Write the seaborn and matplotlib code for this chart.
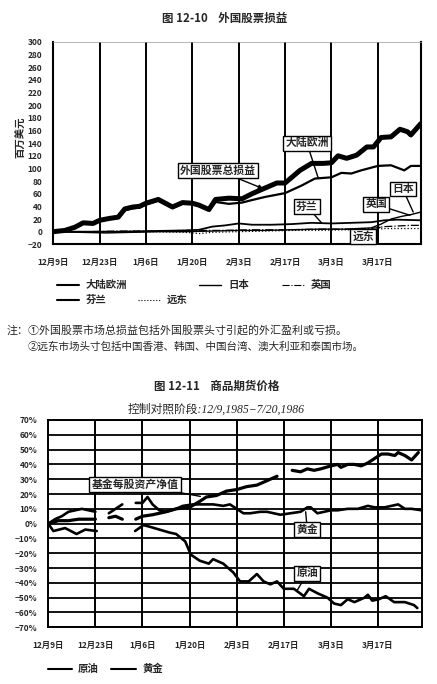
import numpy as np
import pandas as pd
import matplotlib
matplotlib.use("Agg")
import matplotlib.pyplot as plt
from matplotlib.lines import Line2D
import seaborn as sns

# x axis: days counted from 12/9/1985
tick_days = [0, 14, 28, 42, 56, 70, 84, 98]
tick_labels = ["12月9日", "12月23日", "1月6日", "1月20日", "2月3日", "2月17日", "3月3日", "3月17日"]

# fig 12-10, million USD
total_days = [0, 3.5, 6.5, 9, 12, 14, 17, 19.6, 21.6, 24, 26, 28, 31.7, 36, 39, 42, 44, 47, 49, 53,
              57, 60, 63.5, 67.5, 70, 74.5, 78, 81.6, 84, 86, 88.6, 91.6, 94.7, 96.7, 99, 102, 104.7,
              107, 108, 111]
total_vals = [0, 2, 7, 14, 13, 18, 21, 23, 36, 39, 40, 45, 51, 39, 46, 45, 42, 35, 51, 53,
              52, 60, 68, 77, 77, 97, 108, 108, 109, 120, 116, 121, 134, 134, 149, 150, 162,
              158, 153, 171]

europe_days = [0, 3.5, 6.5, 9, 12, 14, 17, 19.6, 21.6, 24, 26, 28, 31.7, 36, 39, 42, 44, 47, 49, 53,
               57, 60, 64, 70, 75, 79, 84, 87, 90, 93, 98, 102, 106, 108, 111]
europe_vals = [0, 2, 6, 13, 12, 17, 20, 22, 34, 37, 38, 43, 49, 38, 44, 44, 41, 34, 47, 44,
               46, 50, 55, 61, 73, 84, 86, 93, 92, 97, 104, 105, 97, 104, 104]

finland_days = [0, 10, 20, 30, 40, 44, 48, 52, 56, 60, 66, 72, 78, 84, 90, 96, 100, 104, 111]
finland_vals = [0, 0, 0, 1, 2, 3, 8, 10, 13, 11, 11, 12, 14, 13, 14, 15, 18, 19, 18]

japan_days = [0, 8, 16, 24, 32, 40, 48, 56, 64, 72, 80, 88, 96, 99, 102, 105, 108, 111]
japan_vals = [0, -1, -2, -1, 0, 0, 1, 2, 2, 3, 4, 4, 6, 12, 20, 24, 27, 31]

uk_days = [0, 10, 20, 30, 40, 50, 60, 70, 80, 90, 96, 100, 104, 108, 111]
uk_vals = [0, 0, 1, 1, 2, 2, 3, 3, 4, 4, 5, 8, 9, 10, 10]

fareast_days = [0, 10, 20, 30, 40, 44, 48, 56, 64, 72, 80, 88, 96, 100, 104, 111]
fareast_vals = [0, -1, -1, 0, -1, -3, -1, 0, 1, 2, 2, 3, 3, 5, 5, 5]

# fig 12-11, percent change (nan = break in the printed line)
oil_days = [0, 1.5, 5, 8.4, 11, 14.4, 20, 25.8, 28.3, 30, 33, 36, 38, 40.7, 42.4, 45, 47.7, 49, 52,
            55, 57, 59.6, 62, 64, 66, 68, 70, 73, 76, 77.5, 80, 83, 85, 87, 89, 91, 94, 95, 96.3,
            98.3, 100.3, 102.8, 106, 108.7, 109.7]
oil_vals = [0, -5, -3, -7, -4, -5, np.nan, -5, -1, -2, -4, -6, -7, -12, -21, -25, -27, -24, -27,
            -33, -39, -39, -34, -39, -41, -39, -44, -44, -49, -44, -47, -50, -54, -55, -51, -53,
            -50, -48, -52, -51, -49, -53, -53, -55, -57]

gold_days = [0, 2, 4, 6, 8, 10, 12, 14, 16, 18, 20, 22, 24, 26, 28, 29.5, 31, 33, 35, 38, 40, 43,
             46, 49, 52, 54, 56, 58, 60, 63, 65, 67, 69, 72, 75, 77, 78, 80, 82, 84, 86, 89, 92,
             95, 97, 100, 102, 104, 106, 108, 111]
gold_vals = [0, 3, 5, 8, 9, 10, 9, 8, np.nan, 7, 10, 13, np.nan, 14, 14, 18, 13, 9, 8, 10, 12, 13,
             13, 13, 12, 13, 10, 7, 7, 8, 8, 7, 6, 7, 8, 11, 11, 7, 8, 9, 9, 10, 10,
             12, 11, 11, 12, 13, 10, 10, 9]

nav_days = [0, 3, 6, 9, 12, 14, 16, 18, 20, 22, 24, 26, 28, 31, 35, 38, 42, 45, 47, 50, 53, 56,
            59, 62, 64, 66, 68, 70, 72.5, 75, 77, 79, 81, 84, 86, 87, 89, 91, 93, 95, 97, 99, 101,
            103, 104, 106, 108, 110]
nav_vals = [0, 2, 2, 3, 3, 3, np.nan, 4, 5, 3, np.nan, 3, 5, 6, 8, 10, 11, 15, 18, 19, 22, 23,
            25, 26, 28, 30, 32, np.nan, 36, 35, 37, 36, 37, 39, 40, 38, 40, 40, 39, 41, 44, 47, 47,
            46, 48, 46, 43, 48]


def to_frame(days, vals):
    df = pd.DataFrame({"day": days, "value": vals})
    df["seg"] = df["value"].isna().cumsum()
    return df.dropna()


def draw(ax, days, vals, **kw):
    sns.lineplot(data=to_frame(days, vals), x="day", y="value", units="seg",
                 estimator=None, ax=ax, color="black", **kw)


def style_xaxis(ax):
    ax.set_xlim(0, 111)
    ax.set_xticks(tick_days)
    ax.set_xticklabels(tick_labels, fontsize=6, fontweight="bold")
    ax.set_xticks([d for d in range(0, 112) if d % 7 < 5], minor=True)
    ax.tick_params(axis="x", which="both", direction="out", length=5, width=1, pad=5)
    ax.xaxis.grid(True, which="major", color="black", lw=1.4)
    ax.set_xlabel("")
    ax.set_ylabel("")


def box(ax, text, xy, xytext, head=False):
    ax.annotate(text, xy=xy, xytext=xytext, ha="center", va="center", fontsize=7.8,
                fontweight="bold",
                bbox=dict(boxstyle="square,pad=0.2", fc="white", ec="black", lw=1),
                arrowprops=dict(arrowstyle="-|>" if head else "-", color="black", lw=1,
                                mutation_scale=6, shrinkA=0, shrinkB=0))


sns.set_style("white")
plt.rcParams["font.family"] = ["Noto Sans CJK SC", "DejaVu Sans"]

fig = plt.figure(figsize=(4.37, 6.84), dpi=100)

# ---------------- fig 12-10
ax1 = fig.add_axes([0.122, 0.6428, 0.841, 0.2958])
draw(ax1, fareast_days, fareast_vals, lw=0.9, linestyle=":")
draw(ax1, uk_days, uk_vals, lw=0.9, linestyle="-.")
draw(ax1, japan_days, japan_vals, lw=1.0)
draw(ax1, finland_days, finland_vals, lw=1.3)
draw(ax1, europe_days, europe_vals, lw=1.6)
draw(ax1, total_days, total_vals, lw=3.6)

ax1.set_ylim(-20, 300)
ax1.set_yticks(range(-20, 301, 20))
ax1.set_yticklabels([str(v).replace("-", "−") for v in range(-20, 301, 20)],
                    fontsize=6, fontweight="bold")
ax1.tick_params(axis="y", direction="out", length=6, width=1.2, pad=2)
style_xaxis(ax1)
for side in ["left", "right", "bottom"]:
    ax1.spines[side].set_linewidth(1.5)
    ax1.spines[side].set_color("black")
ax1.spines["top"].set_linewidth(0.5)
ax1.spines["top"].set_color("0.6")

box(ax1, "外国股票总损益", (63.4, 68), (49.7, 97), head=True)
box(ax1, "大陆欧洲", (80, 85), (76.6, 140))
box(ax1, "芬兰", (81, 14), (76.6, 40))
box(ax1, "英国", (107.7, 26), (97.5, 43))
box(ax1, "日本", (108.7, 31), (105.6, 67))
box(ax1, "远东", (98.7, 7), (93.6, -8))

fig.text(0.515, 0.9737, "图 12-10    外国股票损益", ha="center", va="center",
         fontsize=8.3, fontweight="bold")
fig.text(0.046, 0.80, "百万美元", rotation=90, ha="center", va="center",
         fontsize=7.5, fontweight="bold")


def legend_item(x0, y, label, **kw):
    yy = 1 - y / 684
    fig.add_artist(Line2D([x0 / 437, (x0 + 22) / 437], [yy, yy], color="black", **kw))
    fig.text((x0 + 29) / 437, yy, label, ha="left", va="center", fontsize=7.5,
             fontweight="bold")


legend_item(57, 285, "大陆欧洲", lw=1.5)
legend_item(199, 285, "日本", lw=1.0)
legend_item(282, 285, "英国", lw=0.8, linestyle="-.")
legend_item(57, 300, "芬兰", lw=1.5)
legend_item(138, 300, "远东", lw=0.8, linestyle=":")

fig.text(7 / 437, 1 - 330 / 684, "注：①外国股票市场总损益包括外国股票头寸引起的外汇盈利或亏损。",
         ha="left", va="center", fontsize=7.9)
fig.text(28 / 437, 1 - 347 / 684, "②远东市场头寸包括中国香港、韩国、中国台湾、澳大利亚和泰国市场。",
         ha="left", va="center", fontsize=7.6)

# ---------------- fig 12-11
ax2 = fig.add_axes([0.1105, 0.0829, 0.8545, 0.3031])
draw(ax2, oil_days, oil_vals, lw=1.9)
draw(ax2, gold_days, gold_vals, lw=1.9)
draw(ax2, nav_days, nav_vals, lw=2.3)

ax2.set_ylim(-70, 70)
ax2.set_yticks(range(-70, 71, 10))
ax2.set_yticklabels([f"{v}%".replace("-", "−") for v in range(-70, 71, 10)],
                    fontsize=6, fontweight="bold")
ax2.tick_params(axis="y", direction="out", length=7, width=1.2, pad=1)
style_xaxis(ax2)
ax2.yaxis.grid(True, color="black", lw=1.3)
for side in ax2.spines.values():
    side.set_linewidth(1.4)
    side.set_color("black")

box(ax2, "基金每股资产净值", (45.2, 18.4), (25.8, 26.6))
box(ax2, "黄金", (76.5, 8), (77, -4))
box(ax2, "原油", (74, -45), (77, -33.6))

fig.text(0.495, 1 - 386 / 684, "图 12-11    商品期货价格", ha="center", va="center",
         fontsize=8.3, fontweight="bold")
fig.text(0.495, 1 - 410 / 684, "控制对照阶段:12/9,1985−7/20,1986", ha="center", va="center",
         fontsize=8.5, style="italic", family=["Liberation Serif", "Noto Sans CJK SC"])

yy = 1 - 669 / 684
fig.add_artist(Line2D([48 / 437, 72 / 437], [yy, yy], color="black", lw=1.5))
fig.text(78 / 437, yy, "原油", ha="left", va="center", fontsize=7.5, fontweight="bold")
fig.add_artist(Line2D([111 / 437, 136 / 437], [yy, yy], color="black", lw=1.5))
fig.text(143 / 437, yy, "黄金", ha="left", va="center", fontsize=7.5, fontweight="bold")

fig.savefig("out.png", dpi=100)
